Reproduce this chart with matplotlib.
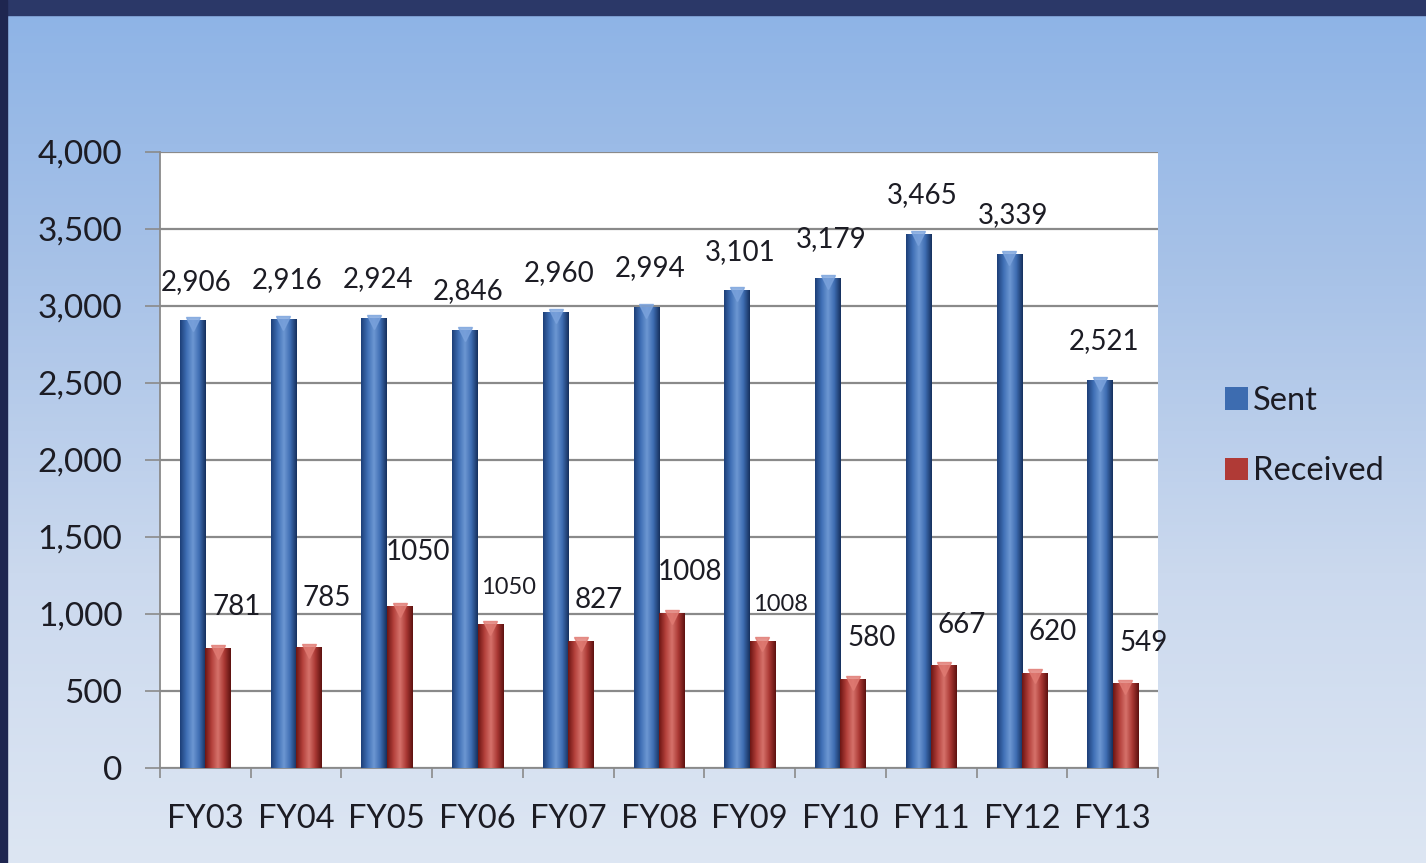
import numpy as np
import matplotlib
matplotlib.use("Agg")
import matplotlib.pyplot as plt
from matplotlib.colors import LinearSegmentedColormap
from matplotlib.patches import Rectangle

# ---- data ----
categories = ["FY03", "FY04", "FY05", "FY06", "FY07", "FY08", "FY09", "FY10", "FY11", "FY12", "FY13"]
sent = [2906, 2916, 2924, 2846, 2960, 2994, 3101, 3179, 3465, 3339, 2521]
sent_labels = ["2,906", "2,916", "2,924", "2,846", "2,960", "2,994", "3,101", "3,179", "3,465", "3,339", "2,521"]
received = [781, 785, 1050, 935, 827, 1008, 827, 580, 667, 620, 549]
received_labels = ["781", "785", "1050", "1050", "827", "1008", "1008", "580", "667", "620", "549"]
received_label_small = [False, False, False, True, False, False, True, False, False, False, False]
yticks = [0, 500, 1000, 1500, 2000, 2500, 3000, 3500, 4000]
ytick_labels = ["0", "500", "1,000", "1,500", "2,000", "2,500", "3,000", "3,500", "4,000"]

FONT = ["Lato", "DejaVu Sans"]
plt.rcParams["font.family"] = FONT
TXT = "#1c1c24"

W, H = 1426, 863
fig = plt.figure(figsize=(W / 100, H / 100), dpi=100)

# background gradient
bg = fig.add_axes([0, 0, 1, 1], zorder=-10)
bg.set_axis_off()
grad = np.linspace(0, 1, 256).reshape(-1, 1)
bgcmap = LinearSegmentedColormap.from_list("bg", ["#8db3e6", "#a9c3e8", "#cbd9ee", "#dde6f3"])
bg.imshow(grad, aspect="auto", cmap=bgcmap, extent=[0, 1, 0, 1], origin="upper")
bg.set_xlim(0, 1); bg.set_ylim(0, 1)
bg.add_patch(Rectangle((0, 1 - 15 / H), 1, 15 / H, color="#2b3868", transform=bg.transAxes))
bg.add_patch(Rectangle((0, 0), 7 / W, 1, color="#1e2650", transform=bg.transAxes))

ax = fig.add_axes([160 / W, 1 - 768 / H, (1158 - 160) / W, (768 - 152) / H])
ax.set_facecolor("white")
x = np.arange(len(categories))
bw = 0.28

bars_s = ax.bar(x - bw / 2, sent, width=bw, color="#3d6cb0", zorder=3, label="Sent")
bars_r = ax.bar(x + bw / 2, received, width=bw, color="#b03a36", zorder=3, label="Received")

hgrad = np.linspace(0, 1, 64).reshape(1, -1)
cm_blue = LinearSegmentedColormap.from_list("b", ["#1d3f78", "#3f6fb5", "#6d97d2", "#3e6db2", "#16305e"])
cm_red = LinearSegmentedColormap.from_list("r", ["#6e1614", "#b3403b", "#d6726b", "#aa3834", "#5e1210"])
for bars, cm, top in ((bars_s, cm_blue, "#7aa2dc"), (bars_r, cm_red, "#e07a72")):
    for b in bars:
        x0, w, h = b.get_x(), b.get_width(), b.get_height()
        im = ax.imshow(hgrad, aspect="auto", cmap=cm, extent=[x0, x0 + w, 0, h], zorder=3.5)
        im.set_clip_path(b)
    ax.plot([b.get_x() + b.get_width() / 2 for b in bars], [b.get_height() - 25 for b in bars],
            linestyle="none", marker="v", markersize=10, color=top, alpha=0.8, zorder=4)

ax.set_xlim(-0.5, len(categories) - 0.5)
ax.set_ylim(0, 4000)
ax.set_yticks(yticks)
ax.set_yticklabels(ytick_labels, fontsize=24, color=TXT)
ax.yaxis.grid(True, color="#8a8a8a", linewidth=1.6, zorder=0)
ax.set_axisbelow(True)
ax.tick_params(axis="y", length=11, width=1.2, color="#8a8a8a", pad=16)

ax.set_xticks(np.arange(-0.5, len(categories), 1))
ax.set_xticklabels([])
ax.tick_params(axis="x", which="major", length=7, width=1.2, color="#8a8a8a", direction="out")
ax.set_xticks(x, minor=True)
ax.set_xticklabels(categories, minor=True, fontsize=23.5, color=TXT)
ax.tick_params(axis="x", which="minor", length=0, pad=26)

for s in ("top", "right"):
    ax.spines[s].set_visible(False)
for s in ("left", "bottom"):
    ax.spines[s].set_color("#8a8a8a")
    ax.spines[s].set_linewidth(1.3)

# data labels
for i, (v, lab) in enumerate(zip(sent, sent_labels)):
    ax.annotate(lab, (x[i] - 0.1, v), xytext=(0, 28), textcoords="offset points",
                ha="center", va="center", fontsize=20, color=TXT, zorder=6)
rec_raise = [0, 6, 10, 0, 0, 0, 0, 0, 0, 0, 0]
for i, (v, lab, sm) in enumerate(zip(received, received_labels, received_label_small)):
    ax.annotate(lab, (x[i] + 0.34, v), xytext=(0, (26 if sm else 29) + rec_raise[i]),
                textcoords="offset points",
                ha="center", va="center", fontsize=17 if sm else 20, color=TXT, zorder=6)

leg = fig.legend(handles=[bars_s, bars_r], labels=["Sent", "Received"],
                 loc="center left", bbox_to_anchor=(1196 / W, 1 - 436 / H),
                 frameon=False, fontsize=23.5, handlelength=0.7, handleheight=0.7,
                 handletextpad=0.15, labelspacing=1.25, labelcolor=TXT)

fig.savefig("out.png", dpi=100)
